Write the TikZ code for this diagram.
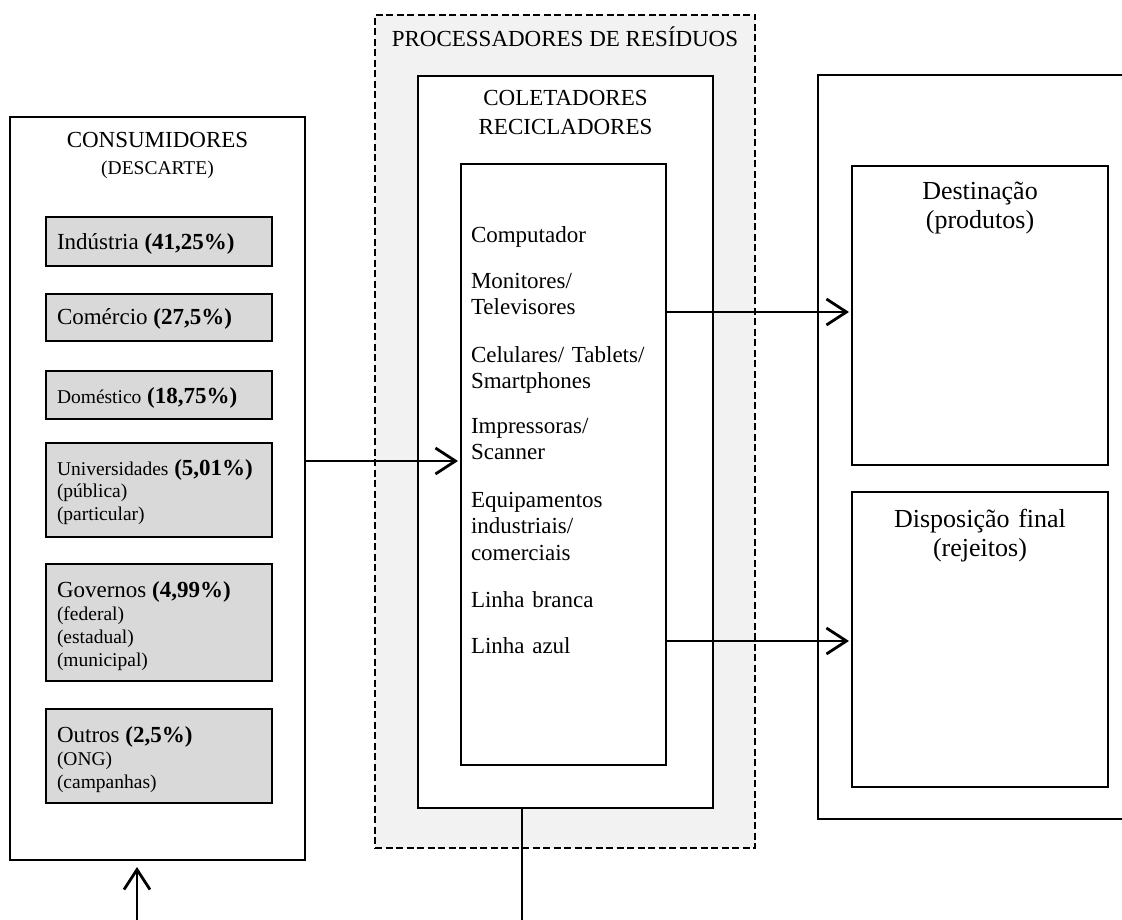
\documentclass[tikz,border=0pt]{standalone}
\usepackage{fontspec}
\setmainfont{Liberation Serif}
\usetikzlibrary{arrows.meta}
\definecolor{grayfill}{HTML}{D9D9D9}
\definecolor{procfill}{HTML}{F2F2F2}
\newcommand\mainsz{\fontsize{23}{26.5}\selectfont}
\newcommand\smallsz{\fontsize{19.5}{23}\selectfont}
\newcommand\bigsz{\fontsize{26}{29}\selectfont}
\begin{document}
\begin{tikzpicture}[x=1pt,y=-1pt,
  box/.style={draw, line width=2.4pt, anchor=north west, inner sep=0pt, outer sep=0pt, fill=white},
  graybox/.style={box, fill=grayfill, minimum width=226pt},
  procbox/.style={box, fill=procfill, line width=2pt, dash pattern=on 7pt off 3.5pt},
  lbl/.style={inner sep=0pt, outer sep=0pt, anchor=base west, font=\mainsz},
  ctr/.style={inner sep=0pt, outer sep=0pt, anchor=base, align=center},
  sublbl/.style={inner sep=0pt, outer sep=0pt, anchor=base west, font=\smallsz, text width=200pt, align=left},
  item/.style={inner sep=0pt, outer sep=0pt, anchor=base west, font=\mainsz, text width=190pt, align=left},
  arr/.style={line width=2.8pt, -{Straight Barb[length=20pt,width=26pt]}},
  link/.style={line width=2.8pt}]
\clip (0,0) rectangle (1122,920);
\fill[white] (0,0) rectangle (1122,920);

% Consumidores
\node[box, minimum width=295pt, minimum height=743pt] (cons) at (10,117) {};
\node[ctr, font=\mainsz] (constitle) at (157.5,148) {CONSUMIDORES};
\node[ctr, font=\smallsz] (conssub) at (157.5,175) {(DESCARTE)};

\node[graybox, minimum height=49pt] (g1) at (46,217) {};
\node[lbl] (t1) at (57,250) {Indústria \textbf{(41,25\%)}};
\node[graybox, minimum height=47pt] (g2) at (46,294) {};
\node[lbl] (t2) at (57,324) {Comércio \textbf{(27,5\%)}};
\node[graybox, minimum height=48pt] (g3) at (46,371) {};
\node[lbl] (t3) at (57,403) {{\smallsz Doméstico} \textbf{(18,75\%)}};
\node[graybox, minimum height=94pt] (g4) at (46,443) {};
\node[lbl] (t4) at (57,475) {{\smallsz Universidades} \textbf{(5,01\%)}};
\node[sublbl] (s4) at (57,497) {(pública)\\(particular)};
\node[graybox, minimum height=117pt] (g5) at (46,564) {};
\node[lbl] (t5) at (57,597) {Governos \textbf{(4,99\%)}};
\node[sublbl] (s5) at (57,620) {(federal)\\(estadual)\\(municipal)};
\node[graybox, minimum height=94pt] (g6) at (46,709) {};
\node[lbl] (t6) at (57,742) {Outros \textbf{(2,5\%)}};
\node[sublbl] (s6) at (57,765) {(ONG)\\(campanhas)};

% Processadores
\node[procbox, minimum width=380pt, minimum height=833pt] (proc) at (375,15) {};
\node[ctr, font=\mainsz] (proctitle) at (565,47) {PROCESSADORES DE RESÍDUOS};
\node[box, minimum width=295pt, minimum height=732pt] (coll) at (418,76) {};
\node[ctr, font=\mainsz, text width=280pt] (colltitle) at (565.5,106) {COLETADORES\\[2.5pt]RECICLADORES};
\node[box, minimum width=205pt, minimum height=601pt] (items) at (461,164) {};
\node[item] (i1) at (471,243) {Computador};
\node[item] (i2) at (471,288) {Monitores/\\Televisores};
\node[item] (i3) at (471,362) {Celulares/ Tablets/\\Smartphones};
\node[item] (i4) at (471,433) {Impressoras/\\Scanner};
\node[item] (i5) at (471,507) {Equipamentos\\industriais/\\comerciais};
\node[item] (i6) at (471,607) {Linha branca};
\node[item] (i7) at (471,653) {Linha azul};

% Destino final
\node[box, minimum width=340pt, minimum height=744pt] (final) at (818,75) {};
\node[box, minimum width=256pt, minimum height=299pt] (dest) at (852,166) {};
\node[ctr, font=\bigsz, text width=250pt] (desttxt) at (980,200) {Destinação\\(produtos)};
\node[box, minimum width=256pt, minimum height=295pt] (disp) at (852,492) {};
\node[ctr, font=\bigsz, text width=250pt] (disptxt) at (980,527) {Disposição final\\(rejeitos)};

% Connectors
\coordinate (inflow) at (137,920);
\coordinate (outflow) at (522,920);
\draw[arr, shorten >=3pt] (cons.east |- 0,461) -- (items.west |- 0,461);
\draw[arr, shorten >=3pt] (items.east |- 0,312) -- (dest.west |- 0,312);
\draw[arr, shorten >=3pt] (items.east |- 0,641) -- (disp.west |- 0,641);
\draw[arr, shorten >=7pt] (inflow) -- (cons.south -| inflow);
\draw[link] (coll.south -| outflow) -- (outflow);
\end{tikzpicture}
\end{document}
